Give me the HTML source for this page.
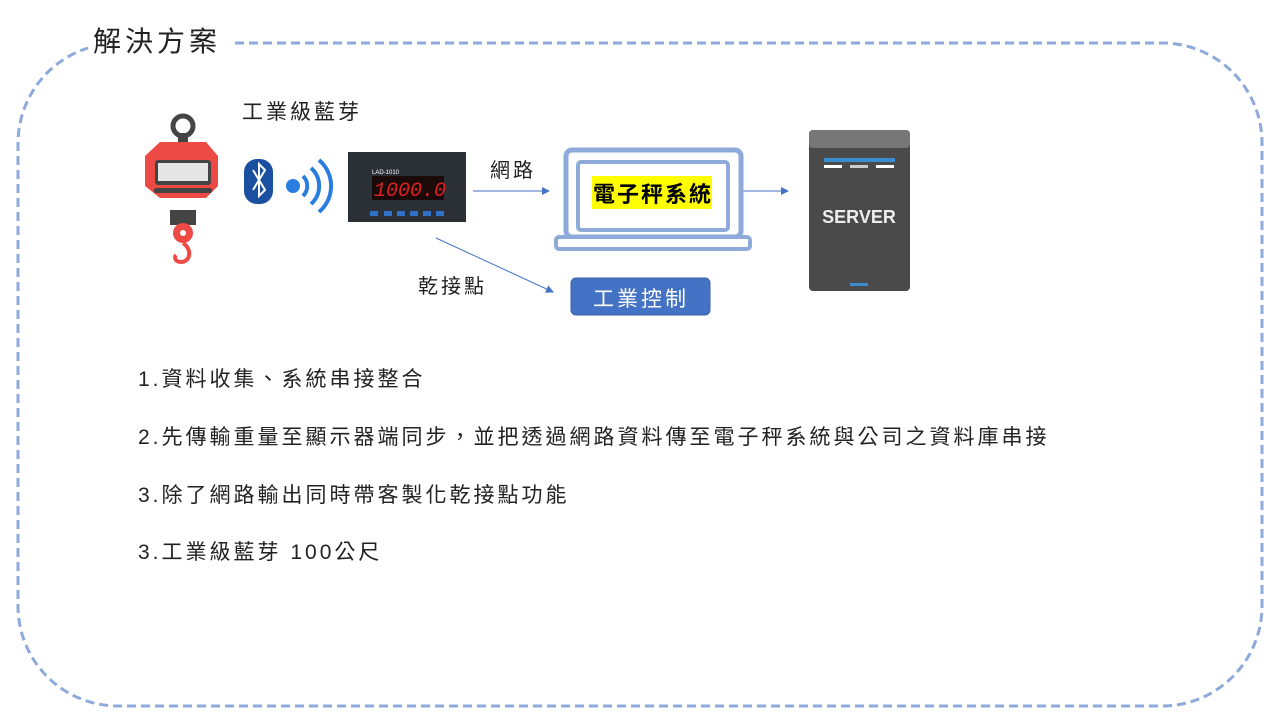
<!DOCTYPE html>
<html><head><meta charset="utf-8"><style>
body{margin:0;width:1280px;height:720px;background:#fff;overflow:hidden;font-family:"Liberation Sans","Noto Sans CJK TC",sans-serif}
svg{position:absolute;left:0;top:0}
.t{position:absolute;white-space:nowrap;color:#222;letter-spacing:3px}
</style></head><body>
<svg width="1280" height="720">
<defs><marker id="a" markerWidth="8" markerHeight="8" refX="7" refY="4" orient="auto"><path d="M0,0 L8,4 L0,8 z" fill="#4472c4"/></marker></defs>
<path d="M235,43 H1162 A100,100 0 0 1 1262,143 V606 A100,100 0 0 1 1162,706 H118 A100,100 0 0 1 18,606 V143 A100,100 0 0 1 88,48" fill="none" stroke="#8eaadb" stroke-width="3" stroke-dasharray="9,5"/>
<circle cx="183" cy="126" r="10" fill="none" stroke="#444" stroke-width="5"/>
<rect x="178" y="133" width="10" height="12" fill="#444"/>
<path d="M160,142 H206 L218,156 V186 L206,198 H160 L145,186 V156 z" fill="#ee4a45"/>
<rect x="155" y="160" width="56" height="25" rx="3" fill="#444"/>
<rect x="158" y="163" width="50" height="18" fill="#e6e6e6"/>
<rect x="154" y="188" width="58" height="5" rx="2" fill="#444"/>
<text x="183" y="206" font-size="8" fill="#fff" font-weight="bold" text-anchor="middle" font-family="Liberation Sans">SR/SA</text>
<rect x="170" y="210" width="26" height="15" fill="#444"/>
<circle cx="183" cy="233" r="10" fill="#ee4a45"/><circle cx="183" cy="233" r="3" fill="#fff"/>
<path d="M183,243 C193,250 190,262 181,262 C175,262 174,257 176,255" fill="none" stroke="#ee4a45" stroke-width="4"/>
<rect x="244" y="159" width="29" height="45" rx="13" fill="#1b4fa0"/>
<path d="M253,170 L265,190 L259,196 V164 L265,170 L253,190" fill="none" stroke="#fff" stroke-width="2"/>
<circle cx="293" cy="186" r="7" fill="#2a7de0"/>
<path d="M303,176 A14,14 0 0 1 303,196" fill="none" stroke="#2a7de0" stroke-width="4"/>
<path d="M311,168 A24,24 0 0 1 311,204" fill="none" stroke="#2a7de0" stroke-width="4"/>
<path d="M319,160 A34,34 0 0 1 319,212" fill="none" stroke="#2a7de0" stroke-width="4"/>
<rect x="348" y="152" width="118" height="70" fill="#2b2f36"/>
<rect x="372" y="176" width="72" height="24" fill="#1a0a0a"/>
<text x="374" y="196" font-size="20" fill="#e02020" font-family="Liberation Mono" font-style="italic">1000.0</text>
<text x="372" y="174" font-size="6" fill="#fff" font-family="Liberation Sans">LAD-1010</text>
<g fill="#2f70c8"><rect x="370" y="211" width="8" height="5"/><rect x="384" y="211" width="8" height="5"/><rect x="397" y="211" width="8" height="5"/><rect x="410" y="211" width="8" height="5"/><rect x="423" y="211" width="8" height="5"/><rect x="436" y="211" width="8" height="5"/></g>
<line x1="473" y1="191" x2="549" y2="191" stroke="#4472c4" stroke-width="1" marker-end="url(#a)"/>
<line x1="436" y1="238" x2="553" y2="292" stroke="#4472c4" stroke-width="1" marker-end="url(#a)"/>
<line x1="742" y1="191" x2="788" y2="191" stroke="#4472c4" stroke-width="1" marker-end="url(#a)"/>
<rect x="566" y="150" width="175" height="87" rx="6" fill="#fff" stroke="#8eaadb" stroke-width="5"/>
<rect x="578" y="162" width="150" height="68" rx="3" fill="#fff" stroke="#8eaadb" stroke-width="4"/>
<rect x="556" y="237" width="194" height="12" rx="3" fill="#fff" stroke="#8eaadb" stroke-width="4"/>
<rect x="592" y="176" width="120" height="33" fill="#ffff00"/>
<rect x="809" y="130" width="101" height="161" rx="4" fill="#4a4a4a"/>
<rect x="809" y="130" width="101" height="18" rx="4" fill="#777"/>
<rect x="824" y="158" width="71" height="4" fill="#3c8dd0"/>
<rect x="824" y="165" width="18" height="3" fill="#fff"/><rect x="850" y="165" width="18" height="3" fill="#ccc"/><rect x="876" y="165" width="18" height="3" fill="#fff"/>
<rect x="850" y="283" width="18" height="3" fill="#3c8dd0"/>
<text x="859" y="223" font-size="18" font-weight="bold" fill="#eee" text-anchor="middle" font-family="Liberation Sans">SERVER</text>
<rect x="571" y="278" width="139" height="37" rx="5" fill="#4472c4" stroke="#3a62a8"/>
</svg>
<div class="t" style="left:93px;top:20px;font-size:28px;letter-spacing:4px">解決方案</div>
<div class="t" style="left:242px;top:96px;font-size:21px">工業級藍芽</div>
<div class="t" style="left:490px;top:154px;font-size:20px">網路</div>
<div class="t" style="left:418px;top:270px;font-size:20px">乾接點</div>
<div class="t" style="left:593px;top:177px;font-size:22px;font-weight:bold;color:#000;letter-spacing:2px">電子秤系統</div>
<div class="t" style="left:593px;top:283px;font-size:21px;color:#fff">工業控制</div>
<div class="t" style="left:138px;top:363px;font-size:21px">1.資料收集、系統串接整合</div>
<div class="t" style="left:138px;top:421px;font-size:21px">2.先傳輸重量至顯示器端同步，並把透過網路資料傳至電子秤系統與公司之資料庫串接</div>
<div class="t" style="left:138px;top:479px;font-size:21px">3.除了網路輸出同時帶客製化乾接點功能</div>
<div class="t" style="left:138px;top:536px;font-size:21px">3.工業級藍芽 100公尺</div>
</body></html>
